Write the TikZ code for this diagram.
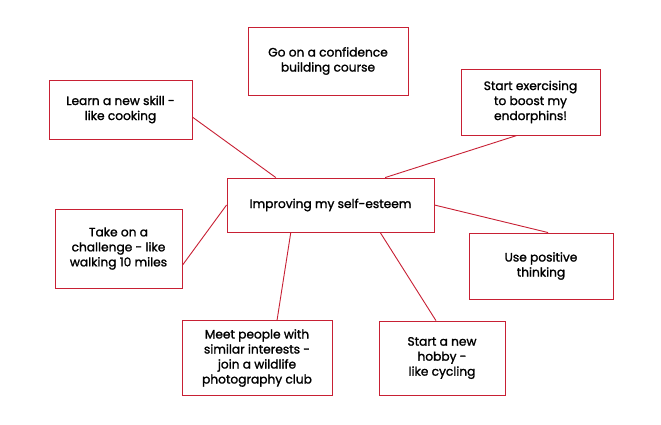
\documentclass[tikz,border=0pt]{standalone}
\usepackage{fontspec}
\setmainfont{Poppins}[FakeBold=1.4]
\usetikzlibrary{calc}
\definecolor{boxred}{RGB}{200,32,52}
\tikzset{
  idea/.style={draw=boxred, line width=0.9pt, fill=white, rectangle, align=center, inner sep=0pt,
    font=\fontsize{12.2pt}{15pt}\selectfont, text=black},
  link/.style={draw=boxred, line width=0.9pt}
}
\begin{document}
\begin{tikzpicture}[x=1pt,y=-1pt]
\useasboundingbox (0,0) rectangle (661,424);
\fill[white] (0,0) rectangle (661,424);
% nodes
\node[idea, minimum width=207pt, minimum height=54pt] (c) at (330.5,205) {Improving my self-esteem};
\node[idea, minimum width=160pt, minimum height=68pt] (top) at (328,61) {Go on a confidence\\building course};
\node[idea, minimum width=143pt, minimum height=59pt] (tl) at (120.5,109.5) {Learn a new skill -\\like cooking};
\node[idea, minimum width=139pt, minimum height=66pt] (tr) at (530.5,102) {Start exercising\\to boost my\\endorphins!};
\node[idea, minimum width=127pt, minimum height=79pt] (lf) at (118.5,248.5) {Take on a\\challenge - like\\walking 10 miles};
\node[idea, minimum width=144pt, minimum height=66pt] (rt) at (541,266) {Use positive\\thinking};
\node[idea, minimum width=150pt, minimum height=75pt] (bl) at (257,358) {Meet people with\\similar interests -\\join a wildlife\\photography club};
\node[idea, minimum width=126pt, minimum height=74pt] (br) at (442,358) {Start a new\\hobby -\\like cycling};
% connectors
\draw[link] ($(tl.north east)!0.627!(tl.south east)$) -- ($(c.north west)!0.237!(c.north east)$);
\draw[link] ($(top.south)+(1,0)$) -- ($(top.south)+(1,0)$ |- c.north);
\draw[link] ($(tr.south west)!0.403!(tr.south east)$) -- ($(c.north west)!0.763!(c.north east)$);
\draw[link] ($(lf.north east)!0.709!(lf.south east)$) -- (c.west);
\draw[link] (c.east) -- ($(rt.north west)!0.549!(rt.north east)$);
\draw[link] ($(c.south west)!0.309!(c.south east)$) -- ($(bl.north west)!0.633!(bl.north east)$);
\draw[link] ($(c.south west)!0.739!(c.south east)$) -- ($(br.north west)!0.452!(br.north east)$);
\end{tikzpicture}
\end{document}
